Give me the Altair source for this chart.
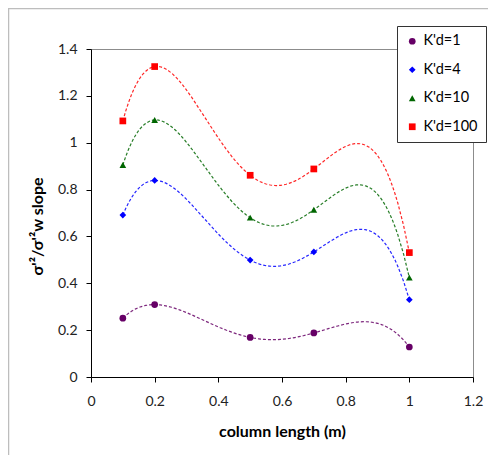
import altair as alt
import pandas as pd

# Data
x_vals = [0.1, 0.2, 0.5, 0.7, 1.0]
kd1 = [0.251, 0.309, 0.169, 0.188, 0.128]
kd4 = [0.691, 0.839, 0.499, 0.534, 0.330]
kd10 = [0.905, 1.097, 0.680, 0.714, 0.424]
kd100 = [1.093, 1.325, 0.861, 0.888, 0.531]
series_names = ["K'd=1", "K'd=4", "K'd=10", "K'd=100"]
series_colors = ["#660066", "#0000FF", "#006600", "#FF0000"]
series_shapes = ["circle", "diamond", "triangle-up", "square"]
x_ticks = [0, 0.2, 0.4, 0.6, 0.8, 1.0, 1.2]
y_ticks = [0, 0.2, 0.4, 0.6, 0.8, 1.0, 1.2, 1.4]

rows = []
for name, vals in zip(series_names, [kd1, kd4, kd10, kd100]):
    for xv, yv in zip(x_vals, vals):
        rows.append({"series": name, "x": xv, "y": yv})
df = pd.DataFrame(rows)

FONT = "Lato"
W, H = 382, 328

xscale = alt.Scale(domain=[0, 1.2], nice=False)
yscale = alt.Scale(domain=[0, 1.4], nice=False)
cscale = alt.Scale(domain=series_names, range=series_colors)
sscale = alt.Scale(domain=series_names, range=series_shapes)
# separate (reversed) scale for the trend lines so its hidden legend is not merged
lscale = alt.Scale(domain=series_names[::-1], range=series_colors[::-1])

xaxis = alt.Axis(values=x_ticks, format="~g", grid=False, title="column length (m)",
                 tickSize=5, labelPadding=12, labelFontSize=14, labelFont=FONT, labelFlush=False,
                 labelColor="#222", titleFont=FONT, titleFontSize=16, titleFontWeight="bold",
                 titleColor="#000", titleBaseline="top", titleY=46, titleX=W / 2,
                 domainColor="#000", tickColor="#000")
yaxis = alt.Axis(values=y_ticks, format="~g", grid=False, title="σ'²/σ'²w  slope",
                 tickSize=5, labelPadding=9, labelFontSize=14, labelFont=FONT, labelFlush=False,
                 labelColor="#222", titleFont=FONT, titleFontSize=16, titleFontWeight="bold",
                 titleColor="#000", titleX=-46, titleY=177, titleAngle=-90,
                 titleBaseline="bottom", titleAlign="center",
                 domainColor="#000", tickColor="#000")

legend = alt.Legend(
    title=None, orient="none", legendX=306, legendY=-23,
    labelFont=FONT, labelFontSize=14.5, labelColor="#000",
    symbolSize=45, labelOffset=4, rowPadding=13.5, padding=8,
    strokeColor="#333", fillColor="#FFFFFF", symbolOpacity=1,
)

base = alt.Chart(df)

frame = alt.Chart(pd.DataFrame({"f": [0]})).mark_rect(
    fillOpacity=0, stroke="#BDBDBD", strokeWidth=1.5
).encode(
    x=alt.value(-82.5), x2=alt.value(W + 200),
    y=alt.value(-40.5), y2=alt.value(H + 200),
)

lines = base.transform_regression(
    "x", "y", method="poly", order=4, groupby=["series"], extent=[0.1, 1.0]
).mark_line(strokeDash=[3, 2], strokeWidth=1.2, opacity=0.85).encode(
    x=alt.X("x:Q", scale=xscale, axis=xaxis),
    y=alt.Y("y:Q", scale=yscale, axis=yaxis),
    stroke=alt.Stroke("series:N", scale=lscale, legend=None),
)

points = base.mark_point(filled=True, opacity=1, size=45).encode(
    x=alt.X("x:Q", scale=xscale),
    y=alt.Y("y:Q", scale=yscale),
    color=alt.Color("series:N", scale=cscale, legend=legend),
    shape=alt.Shape("series:N", scale=sscale, legend=legend),
)

chart = alt.layer(frame, lines, points).properties(
    width=W, height=H,
    autosize=alt.AutoSizeParams(type="none"),
    padding={"left": 83, "top": 41, "right": 15, "bottom": 78},
).configure_view(stroke="#8C8C8C", strokeWidth=1)

chart.save("out.html", embed_options={"renderer": "svg", "actions": False})
